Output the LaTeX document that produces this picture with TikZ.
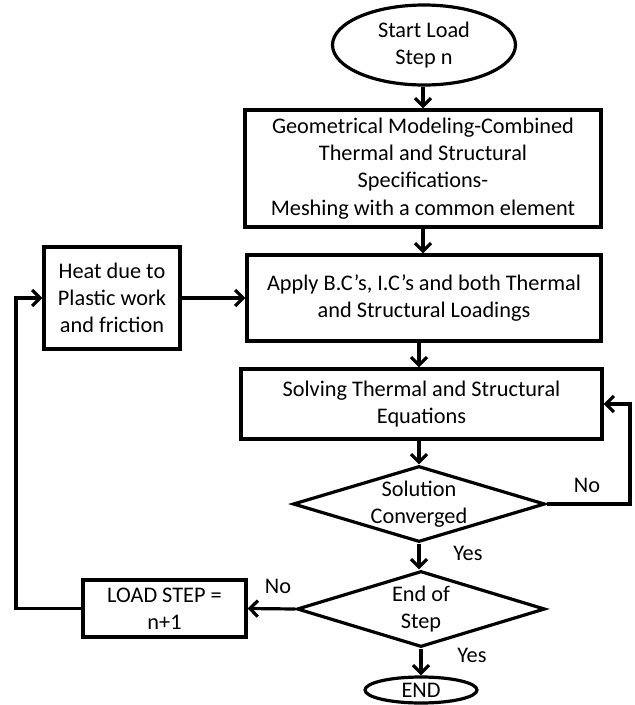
\documentclass[tikz,border=0pt]{standalone}
\usepackage{fontspec}
\setmainfont{Carlito}
\usetikzlibrary{shapes.geometric,arrows.meta}
\begin{document}
\begin{tikzpicture}[x=1pt,y=-1pt,
  every node/.style={font=\fontsize{22.3}{27.2}\selectfont, align=center},
  ln/.style={line width=3.2pt},
  arr/.style={ln, -{Straight Barb[length=8pt,width=16pt]}},
  box/.style={draw, ln, rectangle, inner sep=0pt},
  oval/.style={draw, ln, ellipse, inner sep=0pt},
  dec/.style={draw, ln, diamond, inner sep=0pt, aspect=3},
  lbl/.style={inner sep=0pt}
]
\useasboundingbox (0,0) rectangle (635,705);
\node[oval, minimum width=183pt, minimum height=80pt] (start) at (424,45) {Start Load\\Step n};
\node[box, minimum width=356pt, minimum height=117pt] (b1) at (423,168.5) {Geometrical Modeling-Combined\\Thermal and Structural\\Specifications-\\Meshing with a common element};
\node[box, minimum width=354pt, minimum height=86pt] (b2) at (424,298) {Apply B.C’s, I.C’s and both Thermal\\and Structural Loadings};
\node[box, minimum width=136pt, minimum height=102pt] (heat) at (112,298) {Heat due to\\Plastic work\\and friction};
\node[box, minimum width=361pt, minimum height=70pt] (b3) at (421.5,404) {Solving Thermal and Structural\\Equations};
\node[dec, minimum width=252pt, minimum height=76pt] (d1) at (419,504) {};
\node[lbl] (d1t) at (419,504) {Solution\\Converged};
\node[dec, minimum width=248pt, minimum height=76pt] (d2) at (421,609) {};
\node[lbl] (d2t) at (421,609) {End of\\Step};
\node[box, minimum width=163pt, minimum height=57pt] (load) at (164.5,608.5) {LOAD STEP =\\n+1};
\node[oval, minimum width=112pt, minimum height=26pt] (end) at (421,690) {END};
\node[lbl] (no1) at (587,485) {No};
\node[lbl] (yes1) at (468,553) {Yes};
\node[lbl] (no2) at (278,586) {No};
\node[lbl] (yes2) at (472,655) {Yes};
\coordinate (rc) at (630,405);
\coordinate (lc) at (16,450);
\draw[arr] (start.south -| b1) -- (b1.north);
\draw[arr] (b1.south) -- (b1.south |- b2.north);
\draw[arr] (heat.east) -- (b2.west);
\draw[arr] (b2.south -| d1) -- (b3.north -| d1);
\draw[arr] (b3.south -| d1) -- (d1.north);
\draw[arr] (d1.east) -| (rc) |- (b3.east);
\draw[arr] (d1.south) -- (d1.south |- d2.north);
\draw[arr] (d2.west) -- (load.east);
\draw[arr] (load.west) -| (lc) |- (heat.west);
\draw[arr] (d2.south) -- (d2.south |- end.north);
\end{tikzpicture}
\end{document}
